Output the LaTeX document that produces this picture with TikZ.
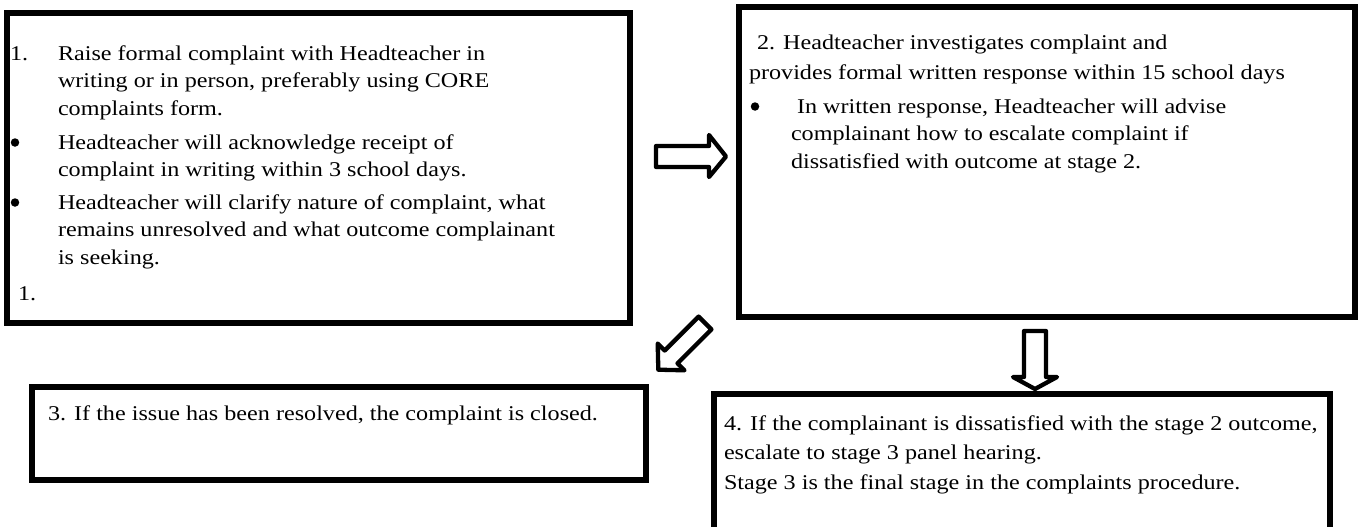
\documentclass[tikz,border=0pt]{standalone}
\usepackage{fontspec}
\setmainfont{Liberation Serif}[FakeStretch=1.15]
\begin{document}
\begin{tikzpicture}[x=1pt,y=-1pt,
  box/.style={draw, line width=5.5pt, inner sep=0pt, outer sep=0pt, anchor=north west},
  txt/.style={anchor=base west, inner sep=0pt, outer sep=0pt, font=\fontsize{21}{27.5}\selectfont},
  bul/.style={circle, fill=black, minimum size=8.5pt, inner sep=0pt, outer sep=0pt},
  blockarrow/.style={draw, line width=4.3pt, line join=round, fill=white}]
\useasboundingbox (0,0) rectangle (1359,527);
\clip (0,0) rectangle (1359,527);
\fill[white] (0,0) rectangle (1359,527);
% boxes
\node[box, minimum width=623pt, minimum height=310pt] (box1) at (7,13) {};
\node[box, minimum width=616pt, minimum height=310pt] (box2) at (739,7) {};
\node[box, minimum width=614pt, minimum height=93pt] (box3) at (32,387) {};
\node[box, minimum width=616pt, minimum height=170pt] (box4) at (714,394) {};
% box 1 text
\node[txt] (n1a) at (10,60) {1.};
\node[txt] (t1a) at (58,60) {Raise formal complaint with Headteacher in};
\node[txt] (t1b) at (58,88) {writing or in person, preferably using CORE};
\node[txt] (t1c) at (58,115) {complaints form.};
\node[bul] (b1a) at (15,142.5) {};
\node[txt] (t1d) at (58,149) {Headteacher will acknowledge receipt of};
\node[txt] (t1e) at (58,176) {complaint in writing within 3 school days.};
\node[bul] (b1b) at (15,202.5) {};
\node[txt] (t1f) at (58,209) {Headteacher will clarify nature of complaint, what};
\node[txt] (t1g) at (58,236) {remains unresolved and what outcome complainant};
\node[txt] (t1h) at (58,264) {is seeking.};
\node[txt] (n1b) at (18,300) {1.};
% box 2 text
\node[txt] (t2a) at (757,49) {2. Headteacher investigates complaint and};
\node[txt] (t2b) at (749,79) {provides formal written response within 15 school days};
\node[bul] (b2a) at (755,106.5) {};
\node[txt] (t2c) at (797,113) {In written response, Headteacher will advise};
\node[txt] (t2d) at (791,140) {complainant how to escalate complaint if};
\node[txt] (t2e) at (791,168) {dissatisfied with outcome at stage 2.};
% box 3 text
\node[txt] (t3a) at (48,420) {3. If the issue has been resolved, the complaint is closed.};
% box 4 text
\node[txt] (t4a) at (724,430) {4. If the complainant is dissatisfied with the stage 2 outcome,};
\node[txt] (t4b) at (724,459) {escalate to stage 3 panel hearing.};
\node[txt] (t4c) at (724,489) {Stage 3 is the final stage in the complaints procedure.};
% block arrows
\draw[blockarrow] (656,146) -- (709,146) -- (709,135) -- (726,156.5) -- (709,177) -- (709,167) -- (656,167) -- cycle;
\draw[blockarrow] (1024,331) -- (1046,331) -- (1046,377) -- (1057,377) -- (1035,389) -- (1013,377) -- (1024,377) -- cycle;
\draw[blockarrow] (711.4,329.4) -- (677.5,363.3) -- (684.5,370.3) -- (658.3,369.7) -- (657.7,343.5) -- (664.7,350.5) -- (698.6,316.6) -- cycle;
\end{tikzpicture}
\end{document}
